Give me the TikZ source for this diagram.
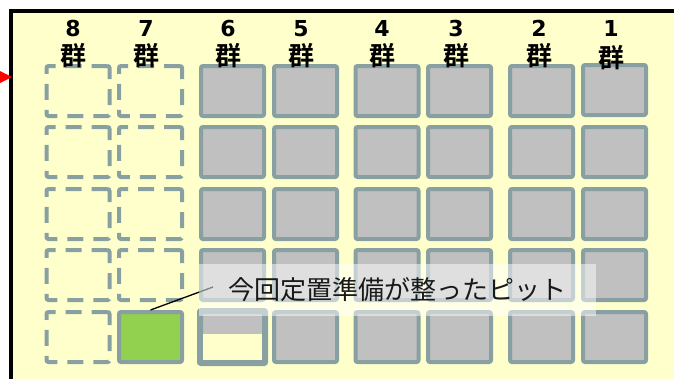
\documentclass[tikz,border=0pt]{standalone}
\usepackage{fontspec}
\setmainfont{DejaVu Sans}
\newfontfamily\cjkb{Noto Sans CJK JP Bold}
\newfontfamily\cjk{Noto Sans CJK JP}
\definecolor{bgyel}{HTML}{FFFFCC}
\definecolor{pitline}{HTML}{88A0A2}
\definecolor{pitgray}{HTML}{C0C0C0}
\definecolor{pitgreen}{HTML}{92D050}
\tikzset{
  pit/.style={draw=pitline, line width=4pt, fill=pitgray, rounded corners=2pt,
    minimum width=63pt, minimum height=50pt, inner sep=0pt},
  emptypit/.style={pit, fill=none, dash pattern=on 16pt off 10pt},
  donepit/.style={pit, fill=pitgreen},
  numlbl/.style={font=\fontsize{22}{22}\selectfont\bfseries, inner sep=0pt},
  grplbl/.style={font=\cjkb\fontsize{26}{26}\selectfont, inner sep=0pt},
  note/.style={fill=white, fill opacity=0.5, text opacity=1, text=black!90,
    font=\cjk\fontsize{26}{26}\selectfont, minimum width=397pt, minimum height=52pt, inner sep=0pt},
}
\begin{document}
\begin{tikzpicture}[x=1pt, y=-1pt]
\useasboundingbox (0,0) rectangle (674,378);
\fill[white] (0,0) rectangle (674,378);
\fill[bgyel] (11,10.5) rectangle (680,385);
\draw[line width=4pt] (11,385) -- (11,10.5) -- (680,10.5);
\fill[red] (0,71) -- (12,77) -- (0,83) -- cycle;
% columns: 8..1
\foreach \c/\x/\lx in {8/78/73, 7/150.5/146, 6/232.5/228, 5/305.5/301, 4/387/382, 3/459.5/456, 2/541.5/539, 1/614.5/611}{
  \node[numlbl] (n\c) at (\lx,28.5) {\c};
}
\foreach \r/\y in {1/91, 2/152, 3/214, 4/275, 5/337}{
  \node[emptypit] (p8r\r) at (78,\y) {};
}
\foreach \r/\y in {1/91, 2/152, 3/214, 4/275}{
  \node[emptypit] (p7r\r) at (150.5,\y) {};
}
\node[donepit] (p7r5) at (150.5,337) {};
\foreach \c/\x in {6/232.5, 5/305.5, 4/387, 3/459.5, 2/541.5}{
  \foreach \r/\y in {1/91, 2/152, 3/214, 4/275, 5/337}{
    \node[pit] (p\c r\r) at (\x,\y) {};
  }
}
\foreach \r/\y in {1/90, 2/152, 3/214, 4/275, 5/337}{
  \node[pit] (p1r\r) at (614.5,\y) {};
}
% partially filled pit (6 group, row 5)
\fill[bgyel] (203,334) rectangle (262,360);
\draw[pitline, line width=4pt, rounded corners=2pt] (p6r5.south west) rectangle (p6r5.north east);
% group labels
\foreach \c/\lx in {8/73, 7/146, 6/228, 5/301, 4/382, 3/456, 2/539}{
  \node[grplbl] (g\c) at (\lx,55.5) {群};
}
\node[grplbl] (g1) at (611,58) {群};
% callout
\coordinate (lend) at (213,287);
\draw[line width=1.3pt] (p7r5.north) -- (lend);
\node[note] (lbl) at (397.5,290) {\raisebox{2pt}{今回定置準備が整ったピット}};
\end{tikzpicture}
\end{document}
